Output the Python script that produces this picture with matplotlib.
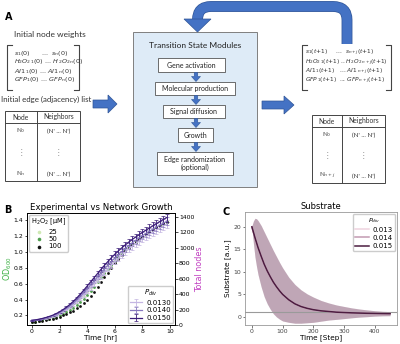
import numpy as np
import matplotlib
matplotlib.use("Agg")
import matplotlib.pyplot as plt
from matplotlib.patches import Rectangle, FancyArrow, PathPatch, Polygon
from matplotlib.path import Path

# ---------------------------------------------------------------------------
# data, panel B (experimental OD600 and simulated node counts)
# ---------------------------------------------------------------------------
time_hr = [0.0, 0.25, 0.5, 0.75, 1.0, 1.25, 1.5, 1.75, 2.0, 2.25,
           2.5, 2.75, 3.0, 3.25, 3.5, 3.75, 4.0, 4.25, 4.5, 4.75,
           5.0, 5.25, 5.5, 5.75, 6.0, 6.25, 6.5, 6.75, 7.0, 7.25,
           7.5, 7.75, 8.0, 8.25, 8.5, 8.75, 9.0, 9.25, 9.5, 9.75]

h2o2_levels = ['25', '50', '100']
od_25 = [0.12, 0.13, 0.13, 0.14, 0.15, 0.16, 0.18, 0.19, 0.21, 0.23,
         0.26, 0.29, 0.32, 0.36, 0.40, 0.45, 0.50, 0.55, 0.61, 0.66,
         0.72, 0.77, 0.82, 0.87, 0.92, 0.96, 1.00, 1.04, 1.08, 1.11,
         1.14, 1.17, 1.20, 1.23, 1.26, 1.29, 1.31, 1.34, 1.36, 1.39]
od_50 = [0.12, 0.12, 0.13, 0.14, 0.15, 0.16, 0.17, 0.18, 0.20, 0.22,
         0.24, 0.27, 0.30, 0.33, 0.37, 0.41, 0.46, 0.51, 0.56, 0.62,
         0.68, 0.73, 0.79, 0.84, 0.89, 0.94, 0.98, 1.02, 1.06, 1.10,
         1.13, 1.16, 1.19, 1.22, 1.25, 1.28, 1.31, 1.33, 1.35, 1.38]
od_100 = [0.12, 0.12, 0.13, 0.13, 0.14, 0.15, 0.16, 0.17, 0.18, 0.20,
          0.22, 0.24, 0.26, 0.29, 0.32, 0.36, 0.40, 0.45, 0.50, 0.56,
          0.62, 0.68, 0.74, 0.80, 0.86, 0.91, 0.96, 1.01, 1.05, 1.09,
          1.12, 1.16, 1.19, 1.22, 1.25, 1.28, 1.31, 1.33, 1.36, 1.38]

pdiv_b = ['0.0130', '0.0140', '0.0150']
nodes_0130 = [60, 64, 70, 78, 88, 100, 114, 131, 151, 175,
              202, 232, 266, 304, 345, 389, 436, 484, 533, 583,
              633, 682, 730, 776, 821, 864, 905, 944, 982, 1018,
              1052, 1085, 1116, 1146, 1175, 1203, 1230, 1256, 1281, 1305]
nodes_0140 = [60, 65, 72, 81, 92, 105, 120, 138, 160, 186,
              215, 248, 285, 326, 371, 419, 469, 520, 572, 624,
              676, 726, 775, 822, 867, 910, 951, 990, 1027, 1062,
              1095, 1127, 1157, 1186, 1214, 1241, 1267, 1293, 1318, 1342]
nodes_0150 = [60, 66, 74, 84, 96, 110, 126, 146, 170, 198,
              230, 266, 306, 350, 398, 450, 504, 558, 612, 666,
              720, 772, 822, 870, 916, 958, 998, 1036, 1072, 1106,
              1138, 1169, 1199, 1228, 1256, 1284, 1311, 1338, 1365, 1391]
nodes_err = [4, 4, 5, 5, 6, 7, 8, 9, 10, 11,
             12, 14, 15, 17, 19, 21, 23, 25, 27, 29,
             31, 33, 34, 36, 37, 38, 39, 40, 41, 42,
             43, 44, 45, 46, 47, 48, 49, 50, 51, 52]

# ---------------------------------------------------------------------------
# data, panel C (substrate over simulation steps)
# ---------------------------------------------------------------------------
pdiv_c = ['0.013', '0.014', '0.015']
steps = [0, 5, 10, 15, 20, 30, 40, 50, 60, 70, 80, 90, 100, 120,
         140, 160, 180, 200, 225, 250, 275, 300, 325, 350, 375, 400, 425, 450]
sub_mean = [20.0, 18.8, 17.6, 16.5, 15.4, 13.5, 11.7, 10.2, 8.9, 7.7, 6.7, 5.8, 5.0, 3.8,
            2.9, 2.3, 1.9, 1.6, 1.35, 1.2, 1.05, 0.97, 0.9, 0.85, 0.8, 0.77, 0.74, 0.72]
sub_sd = [0.2, 2.5, 4.3, 5.3, 6.0, 6.8, 7.2, 7.3, 7.2, 7.0, 6.7, 6.3, 5.9, 5.0,
          4.3, 3.7, 3.2, 2.8, 2.3, 1.9, 1.6, 1.35, 1.1, 0.9, 0.75, 0.6, 0.5, 0.45]

BLUE = '#4472c4'
BLUE_EDGE = '#2f5597'
FA = ['Lato', 'DejaVu Sans']
TICK = 4.4

fig = plt.figure(figsize=(4.0, 3.44), dpi=100)

# ---------------------------------------------------------------------------
# panel A : schematic, drawn in pixel coordinates
# ---------------------------------------------------------------------------
ax = fig.add_axes([0, 0, 1, 1])
ax.set_xlim(0, 400)
ax.set_ylim(344, 0)
ax.axis('off')


def txt(x, y, s, size=4.5, ha='center', **kw):
    ax.text(x, y, s, fontsize=size, family=FA, ha=ha, va='center', **kw)


def small_arrow(y0):
    ax.add_patch(FancyArrow(196, y0, 0, 9, width=3.5, head_width=9, head_length=5,
                            length_includes_head=True, fc=BLUE, ec=BLUE_EDGE, lw=0.4))


ax.text(5, 17, 'A', fontsize=7, fontweight='bold', va='center')
txt(50, 34, 'Initial node weights', size=6.0, color='#333333')
txt(46, 99, 'Initial edge (adjacency) list', size=5.7, color='#333333')

# left matrix
for xs in ([12, 7, 7, 12], [74, 79, 79, 74]):
    ax.plot(xs, [45, 45, 90, 90], color='#444444', lw=0.8)
left_rows = [r'$s_1(0)$      ...  $s_n(0)$',
             r'$H_2O_{2\,1}(0)$ ... $H_{\,2}O_{2\,n}(0)$',
             r'$AI1_{\,1}(0)$ ... $AI1_{\,n}(0)$',
             r'$GFP_1(0)$ ... $GFP_{\,n}(0)$']
for yy, s in zip([53, 62, 71, 80], left_rows):
    ax.text(14, yy, s, fontsize=4.6, va='center', color='#333333')

# right matrix
for xs in ([307, 302, 302, 307], [386, 391, 391, 386]):
    ax.plot(xs, [45, 45, 90, 90], color='#444444', lw=0.8)
right_rows = [r'$s_1(t{+}1)$     ...  $s_{n+j}(t{+}1)$',
              r'$H_2O_{2\,1}(t{+}1)$ .. $H_{\,2}O_{2\,n+j}(t{+}1)$',
              r'$AI1_{\,1}(t{+}1)$   ... $AI1_{\,n+j}(t{+}1)$',
              r'$GFP_{\,1}(t{+}1)$  ... $GFP_{\,n+j}(t{+}1)$']
for yy, s in zip([53, 63, 72, 81], right_rows):
    ax.text(305, yy, s, fontsize=4.2, va='center', color='#333333')


def table(x0, x1, xd, top, head, bot, last):
    ax.add_patch(Rectangle((x0, top), x1 - x0, bot - top, fill=False, ec='#444444', lw=0.7))
    ax.plot([x0, x1], [head, head], color='#444444', lw=0.7)
    ax.plot([xd, xd], [top, bot], color='#444444', lw=0.7)
    cl, cr = (x0 + xd) / 2, (xd + x1) / 2
    txt(cl, (top + head) / 2, 'Node', size=4.9, color='#333333')
    txt(cr, (top + head) / 2, 'Neighbors', size=4.9, color='#333333')
    r0 = head + 8
    txt(cl, r0, r'N$_0$', size=4.6, color='#333333')
    txt(cr, r0, "(N' ... N')", size=4.5, color='#333333')
    txt(cl, (r0 + bot - 7) / 2, '\u22ee', size=5.5, color='#888888')
    txt(cr, (r0 + bot - 7) / 2, '\u22ee', size=5.5, color='#888888')
    txt(cl, bot - 7, last, size=4.6, color='#333333')
    txt(cr, bot - 7, "(N' ... N')", size=4.5, color='#333333')


table(5, 80, 37, 111, 123, 181, r'N$_n$')
table(312, 385, 342, 115, 127, 183, r'N$_{n+j}$')

# central module box
ax.add_patch(Rectangle((133, 32), 124, 155, fc='#deebf7', ec='#7f7f7f', lw=0.7))
txt(195, 45, 'Transition State Modules', size=6.0, color='#222222')
boxes = [(158, 58, 67, 14, 'Gene activation'),
         (155, 82, 80, 13, 'Molecular production'),
         (163, 105, 62, 13, 'Signal diffusion'),
         (178, 128, 35, 14, 'Growth'),
         (157, 152, 76, 23, 'Edge randomization\n(optional)')]
for bx, by, bw, bh, label in boxes:
    ax.add_patch(Rectangle((bx, by), bw, bh, fc='white', ec='#555555', lw=0.6))
    txt(bx + bw / 2, by + bh / 2, label, size=5.0, color='#222222', linespacing=1.25)
for y0 in (72.5, 95.5, 118.5, 142.5):
    small_arrow(y0)

# block arrows
ax.add_patch(FancyArrow(93, 104, 24, 0, width=8, head_width=18, head_length=9,
                        length_includes_head=True, fc=BLUE, ec=BLUE_EDGE, lw=0.5))
ax.add_patch(FancyArrow(262, 105, 32, 0, width=8, head_width=18, head_length=10,
                        length_includes_head=True, fc=BLUE, ec=BLUE_EDGE, lw=0.5))

# curved feedback arrow
loop = Path([(347, 44), (347, 20), (347, 6.5), (333, 6.5), (211, 6.5), (197.5, 6.5), (197.5, 20)],
            [Path.MOVETO, Path.LINETO, Path.CURVE3, Path.CURVE3,
             Path.LINETO, Path.CURVE3, Path.CURVE3])
ax.add_patch(PathPatch(loop, fill=False, lw=7.8, ec=BLUE_EDGE, capstyle='butt'))
ax.add_patch(PathPatch(loop, fill=False, lw=6.8, ec=BLUE, capstyle='butt'))
ax.add_patch(Polygon([(184, 19), (211, 19), (197.5, 32)], closed=True,
                     fc=BLUE, ec=BLUE_EDGE, lw=0.5))

# ---------------------------------------------------------------------------
# panel B
# ---------------------------------------------------------------------------
axb = fig.add_axes([27 / 400, 1 - 325 / 344, 148 / 400, 112 / 344])
od_colors = ['#cfe9b4', '#4f9e4f', '#111111']
scat = []
for vals, col, lab in zip([od_25, od_50, od_100], od_colors, h2o2_levels):
    scat.append(axb.scatter(time_hr, vals, s=4, color=col, lw=0, label=lab, zorder=3))
axb.set_xlim(-0.35, 10.35)
axb.set_ylim(0.08, 1.49)
axb.set_xticks([0, 2, 4, 6, 8, 10])
axb.set_yticks([0.2, 0.4, 0.6, 0.8, 1.0, 1.2, 1.4])
axb.tick_params(labelsize=TICK, length=1.8, width=0.5, pad=1.0)
axb.set_xlabel('Time [hr]', fontsize=5.2, va='top')
axb.xaxis.set_label_coords(0.5, -0.085)
axb.set_ylabel('OD$_{600}$', fontsize=5.8, color='#3cb043', va='center')
axb.yaxis.set_label_coords(-0.13, 0.5)
axb.set_title('Experimental vs Network Growth', fontsize=6.2, pad=2.5)
for sp in axb.spines.values():
    sp.set_linewidth(0.6)

axn = axb.twinx()
sim_colors = ['#c4b6e2', '#8677bd', '#3b1d78']
bars = []
for vals, col, lab in zip([nodes_0130, nodes_0140, nodes_0150], sim_colors, pdiv_b):
    bars.append(axn.errorbar(time_hr, vals, yerr=nodes_err, color=col, lw=0.9,
                             elinewidth=0.6, capsize=1.3, capthick=0.5, label=lab))
axn.set_ylim(0, 1450)
axn.set_yticks([0, 200, 400, 600, 800, 1000, 1200, 1400])
axn.tick_params(labelsize=TICK, length=1.8, width=0.5, pad=1.0)
axn.set_ylabel('Total nodes', fontsize=5.8, color='#c13fc1', va='center', rotation=90)
axn.yaxis.set_label_coords(1.165, 0.5)
for sp in axn.spines.values():
    sp.set_linewidth(0.6)

leg1 = axn.legend(handles=scat, labels=h2o2_levels, title='H$_2$O$_2$ [\u03bcM]',
                  loc='upper left', fontsize=5, title_fontsize=4.8, markerscale=1.3,
                  handlelength=1.2, handletextpad=0.8, borderpad=0.3, labelspacing=0.2,
                  borderaxespad=0.25, framealpha=1, edgecolor='#cccccc', fancybox=True)
axn.add_artist(leg1)
axn.legend(handles=bars, labels=pdiv_b, title='$P_{div}$', loc='lower right',
           fontsize=5, title_fontsize=5, handlelength=1.8, handletextpad=0.6,
           borderpad=0.3, labelspacing=0.25, borderaxespad=0.25, framealpha=1,
           edgecolor='#cccccc')

fig.text(4 / 400, 1 - 210 / 344, 'B', fontsize=7, fontweight='bold', va='center')

# ---------------------------------------------------------------------------
# panel C
# ---------------------------------------------------------------------------
axc = fig.add_axes([245 / 400, 1 - 325 / 344, 152 / 400, 113 / 344])
mean = np.array(sub_mean)
sd = np.array(sub_sd)
sub_colors = ['#efd3df', '#c29ab2', '#4c1c40']
for col, lab in zip(sub_colors, pdiv_c):
    axc.fill_between(steps, mean - sd, mean + sd, color=col, alpha=0.27, lw=0)
for col, lab in zip(sub_colors, pdiv_c):
    axc.plot(steps, mean, color=col, lw=1.1, label=lab)
axc.axhline(1, color='#9a9a9a', lw=0.8, zorder=1)
axc.set_xlim(-22.5, 472.5)
axc.set_ylim(-1.8, 23.3)
axc.set_xticks([0, 100, 200, 300, 400])
axc.set_yticks([0, 5, 10, 15, 20])
axc.tick_params(labelsize=TICK, length=1.8, width=0.5, pad=1.0, colors='#444444')
axc.set_xlabel('Time [Step]', fontsize=5.2, va='top')
axc.xaxis.set_label_coords(0.5, -0.085)
axc.set_ylabel('Substrate [a.u.]', fontsize=5.3, labelpad=2)
axc.set_title('Substrate', fontsize=6, pad=2.5)
for sp in axc.spines.values():
    sp.set_linewidth(0.6)
    sp.set_color('#999999')
axc.legend(title='$P_{div}$', loc='upper right', fontsize=5, title_fontsize=4.5,
           handlelength=2.0, handletextpad=0.6, borderpad=0.3, labelspacing=0.3,
           borderaxespad=0.25, framealpha=1, edgecolor='#cccccc')

fig.text(222 / 400, 1 - 212 / 344, 'C', fontsize=7, fontweight='bold', va='center')

fig.savefig('out.png', dpi=100)
